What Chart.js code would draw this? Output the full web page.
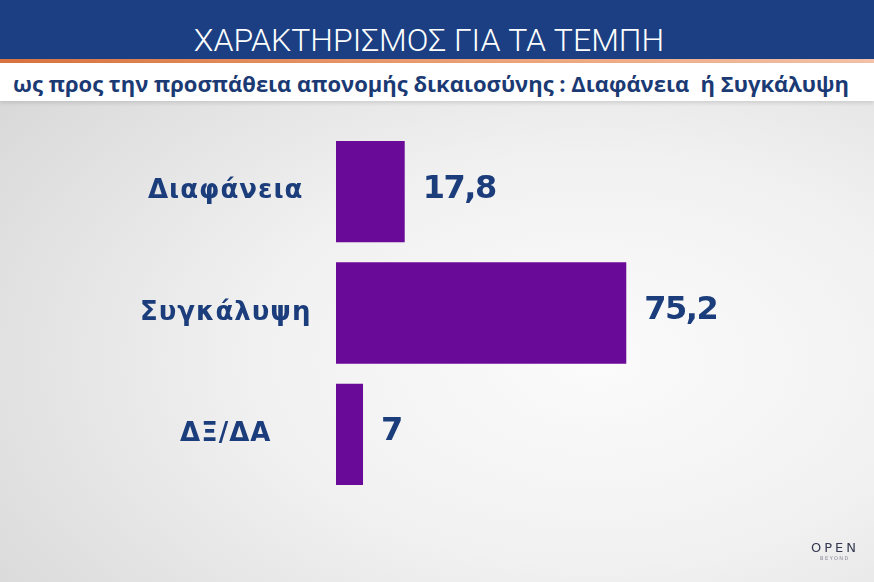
<!DOCTYPE html>
<html>
<head>
<meta charset="utf-8">
<script src="https://cdn.jsdelivr.net/npm/chart.js@4"></script>
<style>
  html, body { margin: 0; padding: 0; }
  body {
    width: 874px; height: 582px; position: relative; overflow: hidden;
    background: radial-gradient(ellipse at 68% 62%, #fbfbfb 0%, #f1f1f1 40%, #d2d2d2 100%);
    font-family: 'DejaVu Sans', sans-serif;
  }
  #titlebar {
    position: absolute; left: 0; top: 0; width: 874px; height: 59px;
    background: #1b3f82;
    color: #fff; text-align: center;
    font-family: Roboto, sans-serif; font-weight: 300; font-size: 32px;
    line-height: 40px; padding-top: 20px; padding-right: 16px; box-sizing: border-box;
  }
  #titlebar span { display: inline-block; white-space: nowrap; }
  #accent {
    position: absolute; left: 0; top: 59px; width: 874px; height: 4px;
    background: linear-gradient(to right, #d9733f, #eea57c 60%, #f3c2a8);
  }
  #subbar {
    position: absolute; left: 0; top: 63px; width: 874px; height: 38px;
    background: #fff; box-shadow: 0 2px 4px rgba(0,0,0,0.12);
    color: #1b3a74; text-align: center;
    font-family: 'Open Sans', sans-serif; font-weight: 700; font-size: 22px;
    line-height: 40px; padding-right: 12px; box-sizing: border-box;
  }
  #subbar span { display: inline-block; white-space: nowrap; }
  #wrap { position: absolute; left: 0; top: 100px; width: 874px; height: 482px; }
  #logo {
    position: absolute; left: 806px; top: 540px; width: 58px; text-align: center;
    color: #34384f;
  }
  #logo .a { font-family: 'DejaVu Sans', sans-serif; font-size: 13px; letter-spacing: 3px; }
  #logo .b { font-family: 'DejaVu Sans', sans-serif; font-size: 5px; letter-spacing: 1.5px; color: #8a8a9a; }
</style>
</head>
<body>
<div id="titlebar"><span>ΧΑΡΑΚΤΗΡΙΣΜΟΣ ΓΙΑ ΤΑ ΤΕΜΠΗ</span></div>
<div id="accent"></div>
<div id="subbar"><span>ως προς την προσπάθεια απονομής δικαιοσύνης : Διαφάνεια&nbsp; ή Συγκάλυψη</span></div>
<div id="wrap"><canvas id="chart" width="874" height="482"></canvas></div>
<div id="logo"><div class="a">OPEN</div><div class="b">BEYOND</div></div>
<script>
const categories = ['Διαφάνεια', 'Συγκάλυψη', 'ΔΞ/ΔΑ'];
const values = [17.8, 75.2, 7];
const valueLabels = ['17,8', '75,2', '7'];

const barColor = '#6a0a98';
const textColor = '#1c3d7b';

// draws the number next to each bar end
const valuePlugin = {
  id: 'valuePlugin',
  afterDatasetsDraw(chart) {
    const ctx = chart.ctx;
    const meta = chart.getDatasetMeta(0);
    ctx.save();
    ctx.letterSpacing = '-1.5px';
    ctx.font = 'bold 32px "DejaVu Sans", sans-serif';
    ctx.fillStyle = textColor;
    ctx.textAlign = 'left';
    ctx.textBaseline = 'alphabetic';
    meta.data.forEach((bar, i) => {
      ctx.fillText(valueLabels[i], bar.x + 18, bar.y + 6);
    });
    ctx.restore();
  }
};

// a little extra letter spacing for the category labels
const spacingPlugin = {
  id: 'spacingPlugin',
  beforeDraw(chart) { chart.ctx.letterSpacing = '1px'; },
  beforeDatasetsDraw(chart) { chart.ctx.letterSpacing = '0px'; }
};

const ctx = document.getElementById('chart');

const data = {
  labels: categories,
  datasets: [
    {
      data: values,
      backgroundColor: barColor,
      borderWidth: 0,
      barPercentage: 1,
      categoryPercentage: 0.835,
    },
  ],
};

const config = {
  type: 'bar',
  data: data,
  options: {
    indexAxis: 'y',
    responsive: false,
    animation: false,
    layout: { padding: { left: 0, right: 152, top: 31, bottom: 87 } },
    plugins: { legend: { display: false }, tooltip: { enabled: false } },
    scales: {
      x: { display: false, min: 0, max: 100 },
      y: {
        grid: { display: false },
        border: { display: false },
        afterFit: (scale) => {
          scale.width = 336;
          scale.paddingTop = 0;
          scale.paddingBottom = 0;
        },
        ticks: {
          crossAlign: 'center',
          padding: 21,
          color: textColor,
          font: { family: 'DejaVu Sans', weight: 'bold', size: 26 },
        },
      },
    },
  },
  plugins: [valuePlugin, spacingPlugin],
};

const myChart = new Chart(ctx, config);
</script>
</body>
</html>
